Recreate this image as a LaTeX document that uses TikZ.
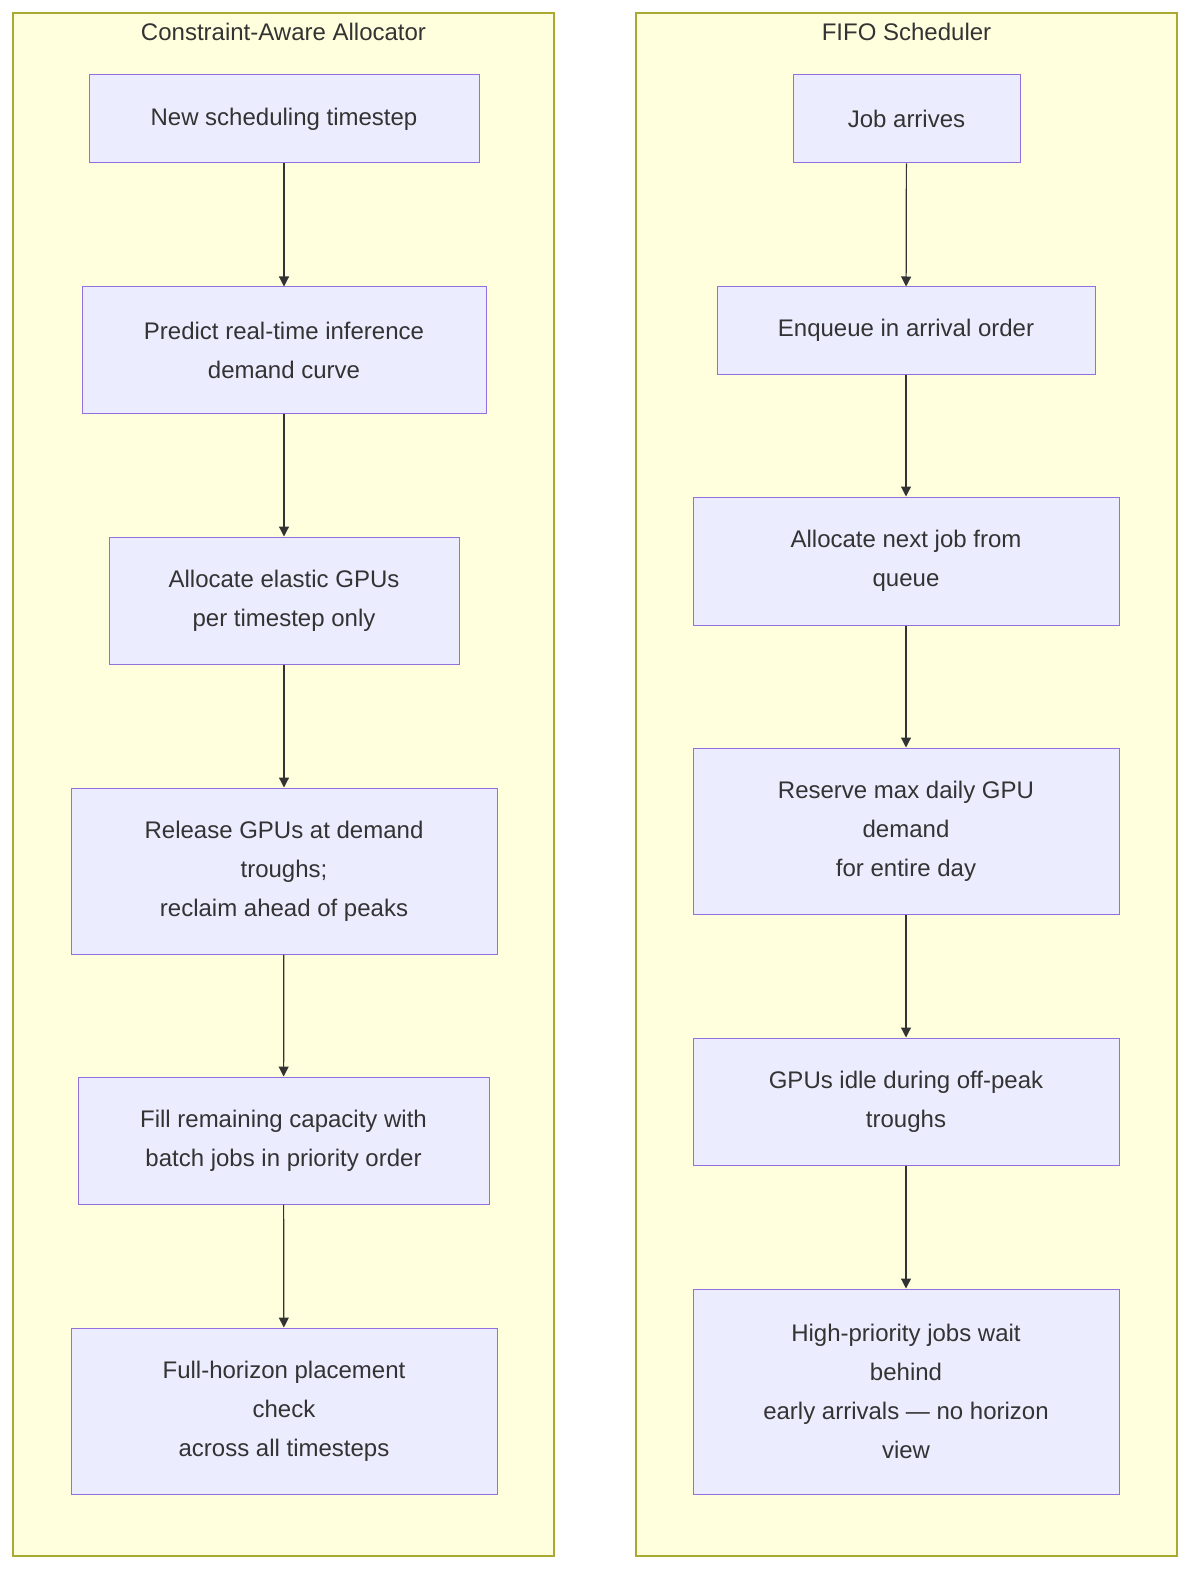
\documentclass[tikz,border=0pt]{standalone}
\usepackage{fontspec}
\setmainfont{Liberation Sans}
\usetikzlibrary{arrows.meta, positioning}
\definecolor{boxfill}{HTML}{ECECFF}
\definecolor{boxline}{HTML}{9370DB}
\definecolor{clfill}{HTML}{FFFFDE}
\definecolor{clline}{HTML}{AAAA33}
\definecolor{ink}{HTML}{333333}
\begin{document}
\begin{tikzpicture}[
  x=0.5pt, y=-0.5pt,
  cluster/.style={draw=clline, fill=clfill, line width=0.7pt},
  title/.style={font=\fontsize{12}{14}\selectfont, text=ink},
  box/.style={draw=boxline, fill=boxfill, line width=0.5pt, align=center,
    font=\fontsize{12}{19.5}\selectfont, text=ink, inner sep=0pt},
  flow/.style={draw=ink, line width=0.6pt, -{Triangle[length=5pt, width=5pt]}}
]
\useasboundingbox (0,0) rectangle (1200,1583);
% clusters
\draw[cluster] (13,13) rectangle (554,1556);
\draw[cluster] (636,13) rectangle (1177,1556);
\node[title] (ltitle) at (283.5,32) {Constraint-Aware Allocator};
\node[title] (rtitle) at (906.5,32) {FIFO Scheduler};
% left column
\node[box, minimum width=195pt, minimum height=44pt] (l1) at (284,119) {New scheduling timestep};
\node[box, minimum width=202pt, minimum height=63pt] (l2) at (284,350) {Predict real-time inference\\demand curve};
\node[box, minimum width=175pt, minimum height=63.5pt] (l3) at (284,600.5) {Allocate elastic GPUs\\per timestep only};
\node[box, minimum width=213pt, minimum height=83pt] (l4) at (284,871) {Release GPUs at demand\\troughs;\\reclaim ahead of peaks};
\node[box, minimum width=205.5pt, minimum height=63.5pt] (l5) at (283.5,1140.5) {Fill remaining capacity with\\batch jobs in priority order};
\node[box, minimum width=213pt, minimum height=83pt] (l6) at (284,1411) {Full-horizon placement\\check\\across all timesteps};
% right column
\node[box, minimum width=113.5pt, minimum height=44pt] (r1) at (906.5,119) {Job arrives};
\node[box, minimum width=189pt, minimum height=43.5pt] (r2) at (906,330.5) {Enqueue in arrival order};
\node[box, minimum width=213pt, minimum height=64pt] (r3) at (906,561) {Allocate next job from\\queue};
\node[box, minimum width=213pt, minimum height=83pt] (r4) at (906,831) {Reserve max daily GPU\\demand\\for entire day};
\node[box, minimum width=213pt, minimum height=63.5pt] (r5) at (906,1101.5) {GPUs idle during off-peak\\troughs};
\node[box, minimum width=213pt, minimum height=102.5pt] (r6) at (906,1391.5) {High-priority jobs wait\\behind\\early arrivals — no horizon\\view};
% connectors
\foreach \a/\b in {l1/l2, l2/l3, l3/l4, l4/l5, l5/l6, r1/r2, r2/r3, r3/r4, r4/r5, r5/r6}
  \draw[flow] (\a) -- (\b);
\end{tikzpicture}
\end{document}
